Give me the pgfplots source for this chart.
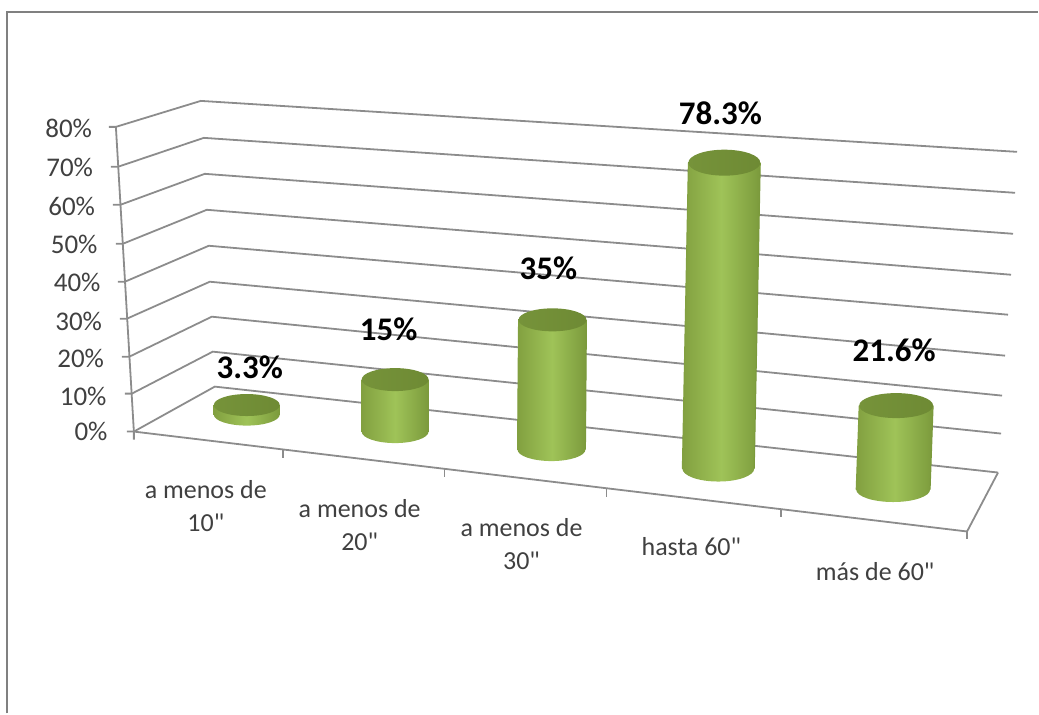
\documentclass[border=0pt]{standalone}
\usepackage{fontspec}
\setmainfont{Carlito}
\newfontfamily\plainfont{Carlito}
\usepackage{pgfplots}
\usepackage{pgfplotstable}
\pgfplotsset{compat=1.18}

\definecolor{gridc}{HTML}{8C8C8C}
\definecolor{framec}{HTML}{808080}
\definecolor{labc}{HTML}{404040}
\definecolor{cylEdgeL}{HTML}{82A040}
\definecolor{cylMid}{HTML}{9FC358}
\definecolor{cylEdgeR}{HTML}{7B9A3C}
\definecolor{cylTopL}{HTML}{76933A}
\definecolor{cylTopR}{HTML}{6E8A34}

% px,py: foot of the cylinder in picture pixels, v: value in %,
% u: pixels per percent there (perspective), dx: lean per percent
% r,ry: ellipse radii, lx,ly: centre of the value label
\pgfplotstableread{
px    py  v    u    dx    r    ry   lx  ly
247   415 3.3  2.9  0     33   11   250 368
395.5 432 15   3.47 0     33.5 11.5 389 330
552   450 35   3.71 0.03  34   11.5 549 269
719   469 78.3 3.91 0.077 36   13   721 113
894   490 21.6 3.89 0.14  37   12.5 895 351
}\cyldata

% drawn at the foot of the cylinder, sizes in pt
\pgfdeclareplotmark{cyl}{%
  \begin{scope}[x=1pt,y=1pt]
    \path[draw=none,left color=cylEdgeL,right color=cylEdgeR,middle color=cylMid]
      ({-\cylr},0) -- ({-\cylr+\cyldx},{\cylh}) -- ({\cylr+\cyldx},{\cylh}) -- ({\cylr},0)
      arc[start angle=0,end angle=-180,x radius=\cylr,y radius=\cylry] -- cycle;
    % the shading's clip is not antialiased: strokes hide the steps along the sides
    \path[draw=cylEdgeL,line width=0.5pt,fill=none] ({-\cylr},0) -- ({-\cylr+\cyldx},{\cylh});
    \path[draw=cylEdgeR,line width=0.5pt,fill=none] ({\cylr},0) -- ({\cylr+\cyldx},{\cylh});
    \path[draw=none,left color=cylTopL,right color=cylTopR]
      ({\cyldx},{\cylh}) ellipse[x radius=\cylr,y radius=\cylry];
  \end{scope}%
}

\begin{document}
\begin{tikzpicture}
\begin{axis}[
  scale only axis,
  width=519.5pt, height=357pt,
  xmin=0, xmax=1039,
  ymin=0, ymax=714,
  y dir=reverse,
  axis line style={draw=none},
  ticks=none,
  clip=false,
  ]
  % frame of the picture
  \addplot[framec, line width=1pt, mark=none] coordinates {(7,714) (7,12) (1039,12)};

  % walls, one line for each level
  \pgfplotsset{every axis plot/.append style={mark=none}}
  \addplot[gridc, line width=0.9pt] coordinates {(109,127) (116,127) (201,101) (1018,152)};
  \addplot[gridc, line width=0.9pt] coordinates {(111,167) (118,167) (204,138) (1016,193)};
  \addplot[gridc, line width=0.9pt] coordinates {(113,205) (120.5,205) (205,174) (1014,234)};
  \addplot[gridc, line width=0.9pt] coordinates {(116,244) (123,244) (207,210) (1012,275)};
  \addplot[gridc, line width=0.9pt] coordinates {(118,282) (125,282) (209,246) (1009,315)};
  \addplot[gridc, line width=0.9pt] coordinates {(120,319) (127,319) (210,282) (1006,356)};
  \addplot[gridc, line width=0.9pt] coordinates {(122,357) (129.5,357) (212,317) (1003,396)};
  \addplot[gridc, line width=0.9pt] coordinates {(125,394) (132,394) (213,352) (1002,434)};
  \addplot[gridc, line width=0.9pt] coordinates {(127,432) (134,432) (215,387) (999,473)};
  % left edge, floor front and right side
  \addplot[gridc, line width=0.9pt] coordinates {(116,127) (134,432) (134,440)};
  \addplot[gridc, line width=0.9pt] coordinates {(134,432) (968,532) (999,473)};
  % category ticks
  \addplot[gridc, line width=0.9pt] coordinates {(283,450) (283,458)};
  \addplot[gridc, line width=0.9pt] coordinates {(445,469) (445,477)};
  \addplot[gridc, line width=0.9pt] coordinates {(607,489) (607,497)};
  \addplot[gridc, line width=0.9pt] coordinates {(782,510) (782,518)};
  \addplot[gridc, line width=0.9pt] coordinates {(968,532) (968,540)};

  % cylinders
  \addplot[
    scatter, only marks, mark=cyl,
    point meta=\thisrow{v},
    visualization depends on={\thisrow{v}*\thisrow{u}*0.5 \as \cylh},
    visualization depends on={\thisrow{v}*\thisrow{dx}*0.5 \as \cyldx},
    visualization depends on={\thisrow{r}*0.5 \as \cylr},
    visualization depends on={\thisrow{ry}*0.5 \as \cylry},
  ] table[x=px, y=py] {\cyldata};

  % value labels
  \addplot[
    draw=none, mark=none,
    point meta=\thisrow{v},
    nodes near coords={\pgfmathprintnumber[assume math mode=true]{\pgfplotspointmeta}\%},
    nodes near coords style={anchor=center, text=black, font=\bfseries\fontsize{16.5}{17}\selectfont},
  ] table[x=lx, y=ly] {\cyldata};

  % value axis labels
  \tikzset{ylab/.style={anchor=east, inner xsep=0pt, text=labc, font=\fontsize{13.5}{15}\selectfont}}
  \node[ylab] at (axis cs:92.5,129) {80\%};
  \node[ylab] at (axis cs:93.5,168) {70\%};
  \node[ylab] at (axis cs:95.5,207) {60\%};
  \node[ylab] at (axis cs:98,245) {50\%};
  \node[ylab] at (axis cs:101,283) {40\%};
  \node[ylab] at (axis cs:102.5,322) {30\%};
  \node[ylab] at (axis cs:104.5,359) {20\%};
  \node[ylab] at (axis cs:107,397) {10\%};
  \node[ylab] at (axis cs:108,432) {0\%};

  % category labels
  \tikzset{xlab/.style={anchor=center, align=center, text=labc, font=\plainfont\fontsize{13}{16.5}\selectfont}}
  \node[xlab] at (axis cs:206,507) {a menos de\\10"};
  \node[xlab] at (axis cs:360,526) {a menos de\\20"};
  \node[xlab] at (axis cs:522,545) {a menos de\\30"};
  \node[xlab] at (axis cs:692,547) {hasta 60"};
  \node[xlab] at (axis cs:876,572.5) {más de 60"};
\end{axis}
\end{tikzpicture}
\end{document}
